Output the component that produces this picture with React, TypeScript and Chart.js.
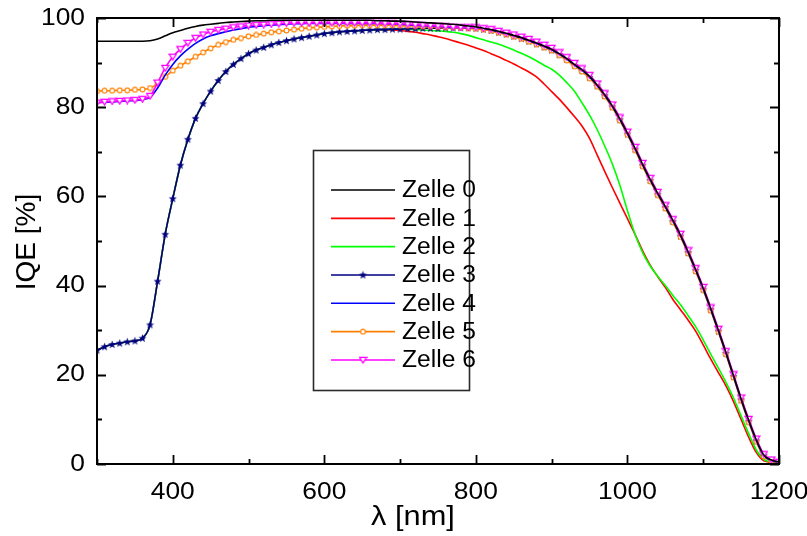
import { useEffect, useRef } from "react";
import { Chart, registerables } from "chart.js";
Chart.register(...registerables);

const wavelengths = [
  300, 310, 320, 330, 340, 350, 360, 370, 380, 390,
  400, 410, 420, 430, 440, 450, 460, 470, 480, 490,
  500, 510, 520, 530, 540, 550, 560, 570, 580, 590,
  600, 610, 620, 630, 640, 650, 660, 670, 680, 690,
  700, 710, 720, 730, 740, 750, 760, 770, 780, 790,
  800, 810, 820, 830, 840, 850, 860, 870, 880, 890,
  900, 910, 920, 930, 940, 950, 960, 970, 980, 990,
  1000, 1010, 1020, 1030, 1040, 1050, 1060, 1070, 1080, 1090,
  1100, 1110, 1120, 1130, 1140, 1150, 1160, 1170, 1180, 1190,
  1200,
];

const zelle0 = [
  94.8, 94.8, 94.8, 94.8, 94.8, 94.8, 94.8, 94.9, 95.3, 96.0,
  96.7, 97.2, 97.7, 98.1, 98.4, 98.6, 98.8, 99.0, 99.1, 99.2,
  99.3, 99.4, 99.4, 99.5, 99.5, 99.5, 99.5, 99.5, 99.5, 99.5,
  99.5, 99.5, 99.5, 99.5, 99.5, 99.5, 99.5, 99.4, 99.4, 99.3,
  99.3, 99.2, 99.1, 99.0, 98.9, 98.8, 98.7, 98.6, 98.4, 98.2,
  98.0, 97.7, 97.4, 97.0, 96.6, 96.1, 95.6, 95.0, 94.4, 93.7,
  93.0, 92.0, 90.9, 89.6, 88.4, 86.9, 85.0, 82.8, 80.3, 77.4,
  74.2, 70.8, 67.2, 63.8, 60.7, 57.7, 54.6, 51.3, 47.6, 43.6,
  39.4, 34.8, 30.0, 25.0, 19.8, 14.6, 9.8, 5.4, 2.0, 0.9,
  0.4,
];

const zelle1 = [
  25.5, 26.3, 26.8, 27.1, 27.4, 27.6, 28.2, 31.2, 41.0, 51.5,
  59.5, 67.0, 72.8, 77.5, 80.8, 83.6, 86.0, 88.0, 89.6, 90.9,
  92.0, 92.8, 93.4, 94.0, 94.5, 94.9, 95.3, 95.6, 95.9, 96.2,
  96.5, 96.7, 96.9, 97.0, 97.1, 97.2, 97.3, 97.3, 97.3, 97.3,
  97.2, 97.0, 96.8, 96.5, 96.2, 95.8, 95.4, 94.9, 94.4, 93.9,
  93.3, 92.7, 92.0, 91.3, 90.5, 89.7, 88.8, 87.9, 86.8, 85.2,
  83.5, 81.8, 79.9, 77.9, 75.8, 73.0, 69.3, 65.6, 62.0, 58.5,
  55.0, 51.5, 47.8, 44.6, 42.0, 39.6, 36.9, 34.6, 32.3, 29.8,
  26.7, 23.5, 20.5, 17.5, 14.0, 10.0, 6.0, 2.6, 0.7, 0.4,
  0.3,
];

const zelle2 = [
  25.5, 26.3, 26.8, 27.1, 27.4, 27.6, 28.2, 31.2, 41.0, 51.5,
  59.5, 67.0, 72.8, 77.5, 80.8, 83.6, 86.0, 88.0, 89.6, 90.9,
  92.0, 92.8, 93.4, 94.0, 94.5, 94.9, 95.3, 95.6, 95.9, 96.2,
  96.5, 96.7, 96.9, 97.0, 97.1, 97.2, 97.3, 97.4, 97.4, 97.5,
  97.5, 97.5, 97.4, 97.3, 97.2, 97.1, 97.0, 96.8, 96.5, 96.1,
  95.6, 95.1, 94.6, 94.1, 93.5, 92.8, 92.1, 91.3, 90.4, 89.4,
  88.5, 87.2, 85.5, 83.6, 81.0, 78.2, 75.0, 71.3, 67.3, 62.5,
  56.8, 51.5, 47.4, 44.4, 42.1, 40.0, 37.8, 35.7, 33.3, 30.8,
  27.8, 24.6, 21.5, 18.3, 14.8, 10.8, 6.8, 3.2, 1.0, 0.5,
  0.3,
];

const zelle3 = [
  25.5, 26.3, 26.8, 27.1, 27.4, 27.6, 28.2, 31.2, 41.0, 51.5,
  59.5, 67.0, 72.8, 77.5, 80.8, 83.6, 86.0, 88.0, 89.6, 90.9,
  92.0, 92.8, 93.4, 94.0, 94.5, 94.9, 95.3, 95.6, 95.9, 96.2,
  96.5, 96.7, 96.9, 97.0, 97.1, 97.2, 97.3, 97.4, 97.4, 97.5,
  97.5, 97.6, 97.6, 97.7, 97.7, 97.7, 97.8, 97.8, 97.8, 97.8,
  97.7, 97.5, 97.2, 96.8, 96.4, 95.9, 95.4, 94.8, 94.2, 93.5,
  92.8, 91.8, 90.7, 89.4, 88.2, 86.7, 84.8, 82.6, 80.1, 77.2,
  74.0, 70.6, 67.0, 63.6, 60.5, 57.5, 54.4, 51.1, 47.4, 43.4,
  39.2, 34.6, 29.8, 24.8, 19.6, 14.4, 9.6, 5.2, 1.9, 0.8,
  0.4,
];

const zelle4 = [
  81.0, 81.1, 81.2, 81.3, 81.4, 81.5, 81.7, 82.2, 84.3, 87.2,
  89.6, 91.5, 93.0, 94.3, 95.3, 96.0, 96.5, 96.9, 97.3, 97.6,
  97.9, 98.1, 98.3, 98.4, 98.5, 98.6, 98.7, 98.7, 98.8, 98.8,
  98.8, 98.8, 98.8, 98.8, 98.8, 98.8, 98.8, 98.8, 98.7, 98.7,
  98.6, 98.5, 98.4, 98.3, 98.2, 98.1, 98.0, 97.9, 97.9, 97.8,
  97.8, 97.6, 97.3, 96.9, 96.5, 96.0, 95.5, 94.9, 94.3, 93.6,
  92.9, 91.9, 90.8, 89.5, 88.3, 86.8, 84.9, 82.7, 80.2, 77.3,
  74.1, 70.7, 67.1, 63.7, 60.6, 57.6, 54.5, 51.2, 47.5, 43.5,
  39.3, 34.7, 29.9, 24.9, 19.7, 14.5, 9.7, 5.3, 1.9, 0.8,
  0.4,
];

const zelle5 = [
  83.6, 83.7, 83.7, 83.8, 83.8, 83.9, 84.0, 84.3, 85.3, 86.8,
  88.2, 89.3, 90.3, 91.3, 92.3, 93.2, 94.0, 94.6, 95.1, 95.5,
  95.9, 96.2, 96.5, 96.8, 97.0, 97.2, 97.4, 97.6, 97.8, 97.9,
  98.0, 98.1, 98.2, 98.3, 98.3, 98.4, 98.4, 98.4, 98.4, 98.4,
  98.3, 98.3, 98.2, 98.1, 98.1, 98.0, 97.9, 97.9, 97.8, 97.7,
  97.6, 97.4, 97.1, 96.7, 96.3, 95.8, 95.3, 94.7, 94.1, 93.4,
  92.7, 91.7, 90.5, 89.2, 88.0, 86.5, 84.6, 82.4, 79.9, 77.0,
  73.8, 70.4, 66.8, 63.4, 60.3, 57.3, 54.2, 50.9, 47.2, 43.2,
  39.0, 34.4, 29.6, 24.6, 19.4, 14.2, 9.4, 5.0, 1.7, 0.7,
  0.4,
];

const zelle6 = [
  81.0, 81.2, 81.3, 81.4, 81.5, 81.6, 81.8, 82.5, 85.5, 88.8,
  91.3, 93.0, 94.4, 95.5, 96.3, 96.9, 97.3, 97.6, 97.9, 98.1,
  98.3, 98.4, 98.5, 98.6, 98.7, 98.8, 98.9, 98.9, 98.9, 98.9,
  98.9, 98.9, 98.9, 98.9, 98.9, 98.9, 98.9, 98.9, 98.8, 98.8,
  98.7, 98.6, 98.5, 98.4, 98.3, 98.2, 98.1, 98.0, 97.9, 97.9,
  97.9, 97.7, 97.5, 97.1, 96.7, 96.3, 95.8, 95.3, 94.7, 94.0,
  93.3, 92.3, 91.2, 89.9, 88.7, 87.2, 85.3, 83.1, 80.6, 77.7,
  74.5, 71.1, 67.5, 64.1, 61.0, 58.0, 54.9, 51.6, 47.9, 43.9,
  39.7, 35.1, 30.3, 25.3, 20.1, 14.9, 10.1, 5.7, 2.2, 1.0,
  0.5,
];

const seriesNames = ["Zelle 0", "Zelle 1", "Zelle 2", "Zelle 3", "Zelle 4", "Zelle 5", "Zelle 6"];
const seriesValues = [zelle0, zelle1, zelle2, zelle3, zelle4, zelle5, zelle6];
const seriesColors = ["#000000", "#ff0000", "#00ff00", "#000080", "#0000ff", "#ff8000", "#ff00ff"];
const drawOrder = [0, 6, 5, 4, 2, 3, 1];

const xTicks = [400, 600, 800, 1000, 1200];
const xMinorTicks = [300, 500, 700, 900, 1100];
const yTicks = [0, 20, 40, 60, 80, 100];
const yMinorTicks = [10, 30, 50, 70, 90];
const xTitle = "λ [nm]";
const yTitle = "IQE [%]";

const FONT = '"Liberation Sans", Arial, Helvetica, sans-serif';
const SX = 1.07;

function makeStar(color: string) {
  const c = document.createElement("canvas");
  c.width = 9;
  c.height = 9;
  const g = c.getContext("2d")!;
  g.fillStyle = color;
  g.beginPath();
  for (let i = 0; i < 10; i++) {
    const r = i % 2 === 0 ? 4.2 : 1.8;
    const a = -Math.PI / 2 + (i * Math.PI) / 5;
    const px = 4.5 + r * Math.cos(a);
    const py = 4.8 + r * Math.sin(a);
    if (i === 0) g.moveTo(px, py);
    else g.lineTo(px, py);
  }
  g.closePath();
  g.fill();
  return c;
}

function makeCircle(color: string) {
  const c = document.createElement("canvas");
  c.width = 7;
  c.height = 7;
  const g = c.getContext("2d")!;
  g.beginPath();
  g.arc(3.5, 3.5, 2.4, 0, Math.PI * 2);
  g.fillStyle = "#ffffff";
  g.fill();
  g.strokeStyle = color;
  g.lineWidth = 1.1;
  g.stroke();
  return c;
}

function makeTriangle(color: string) {
  const c = document.createElement("canvas");
  c.width = 9;
  c.height = 8;
  const g = c.getContext("2d")!;
  g.beginPath();
  g.moveTo(1.0, 1.4);
  g.lineTo(8.0, 1.4);
  g.lineTo(4.5, 7.0);
  g.closePath();
  g.fillStyle = "#ffffff";
  g.fill();
  g.strokeStyle = color;
  g.lineWidth = 1.3;
  g.stroke();
  return c;
}

function stretchedText(
  ctx: CanvasRenderingContext2D,
  text: string,
  x: number,
  y: number,
  align: CanvasTextAlign,
  sx: number
) {
  ctx.save();
  ctx.translate(x, y);
  ctx.scale(sx, 1);
  ctx.textAlign = align;
  ctx.fillText(text, 0, 0);
  ctx.restore();
}

export default function App() {
  const ref = useRef<HTMLCanvasElement | null>(null);

  useEffect(() => {
    const canvas = ref.current;
    if (!canvas) return;
    const markers: (HTMLCanvasElement | null)[] = [
      null,
      null,
      null,
      makeStar(seriesColors[3]),
      null,
      makeCircle(seriesColors[5]),
      makeTriangle(seriesColors[6]),
    ];

    const datasets = seriesValues.map((vals, i) => ({
      label: seriesNames[i],
      data: wavelengths.map((x, j) => ({ x, y: vals[j] })),
      borderColor: seriesColors[i],
      backgroundColor: seriesColors[i],
      borderWidth: 1.6,
      cubicInterpolationMode: "monotone" as const,
      pointRadius: markers[i] ? 3 : 0,
      pointStyle: (markers[i] || "circle") as any,
      order: drawOrder[i],
    }));

    const decorPlugin = {
      id: "decor",
      afterDraw(chart: any) {
        const ctx = chart.ctx as CanvasRenderingContext2D;
        const { left, right, top, bottom } = chart.chartArea;
        const xs = chart.scales.x;
        const ys = chart.scales.y;
        ctx.save();
        ctx.strokeStyle = "#000";
        ctx.lineWidth = 1.8;
        const major = 9;
        const minor = 5;
        ctx.beginPath();
        const tickX = (v: number, len: number) => {
          const px = Math.round(xs.getPixelForValue(v)) + 0.5;
          ctx.moveTo(px, bottom);
          ctx.lineTo(px, bottom - len);
          ctx.moveTo(px, top);
          ctx.lineTo(px, top + len);
        };
        const tickY = (v: number, len: number) => {
          const py = Math.round(ys.getPixelForValue(v)) + 0.5;
          ctx.moveTo(left, py);
          ctx.lineTo(left + len, py);
          ctx.moveTo(right, py);
          ctx.lineTo(right - len, py);
        };
        xTicks.forEach((v) => tickX(v, major));
        xMinorTicks.forEach((v) => tickX(v, minor));
        yTicks.forEach((v) => tickY(v, major));
        yMinorTicks.forEach((v) => tickY(v, minor));
        ctx.stroke();
        ctx.lineWidth = 2;
        ctx.strokeRect(left, top, right - left, bottom - top);

        // tick labels
        ctx.fillStyle = "#000";
        ctx.font = `24px ${FONT}`;
        ctx.textBaseline = "middle";
        xTicks.forEach((v) => {
          stretchedText(ctx, String(v), xs.getPixelForValue(v), bottom + 28, "center", 1.1);
        });
        yTicks.forEach((v) => {
          stretchedText(ctx, String(v), left - 12, ys.getPixelForValue(v), "right", 1.1);
        });

        // axis titles
        ctx.font = `28px ${FONT}`;
        stretchedText(ctx, xTitle, 413, 517, "center", 1.1);
        ctx.save();
        ctx.translate(27, 242);
        ctx.rotate(-Math.PI / 2);
        ctx.textAlign = "center";
        ctx.fillText(yTitle, 0, 0);
        ctx.restore();

        // legend
        const bx = 313.5;
        const by = 150.5;
        const bw = 156;
        const bh = 240;
        ctx.lineWidth = 1.6;
        ctx.strokeStyle = "#2a2a2a";
        ctx.fillStyle = "#fff";
        ctx.fillRect(bx, by, bw, bh);
        ctx.strokeRect(bx, by, bw, bh);
        ctx.font = `23px ${FONT}`;
        seriesNames.forEach((name, i) => {
          const y = 190 + i * 28.33;
          ctx.strokeStyle = seriesColors[i];
          ctx.lineWidth = 1.6;
          ctx.beginPath();
          ctx.moveTo(331, y);
          ctx.lineTo(395, y);
          ctx.stroke();
          const m = markers[i];
          if (m) ctx.drawImage(m, 363 - m.width / 2, y - m.height / 2);
          ctx.fillStyle = "#000";
          stretchedText(ctx, name, 402, y + 1, "left", SX);
        });
        ctx.restore();
      },
    };

    const chart = new Chart(canvas, {
      type: "line",
      data: { datasets },
      options: {
        animation: false,
        responsive: false,
        maintainAspectRatio: false,
        devicePixelRatio: 1,
        layout: { padding: { left: 0, right: 28, top: 18, bottom: 0 } },
        plugins: { legend: { display: false }, tooltip: { enabled: false } },
        elements: { line: { tension: 0 } },
        scales: {
          x: {
            type: "linear",
            min: 300,
            max: 1200,
            grid: { display: false, drawTicks: false },
            border: { display: false },
            ticks: { display: false },
            afterFit: (scale: any) => {
              scale.height = 72;
              scale.paddingLeft = 0;
              scale.paddingRight = 0;
              scale.paddingTop = 0;
              scale.paddingBottom = 0;
            },
          },
          y: {
            type: "linear",
            min: 0,
            max: 100,
            grid: { display: false, drawTicks: false },
            border: { display: false },
            ticks: { display: false },
            afterFit: (scale: any) => {
              scale.width = 97;
              scale.paddingLeft = 0;
              scale.paddingRight = 0;
              scale.paddingTop = 0;
              scale.paddingBottom = 0;
            },
          },
        },
      },
      plugins: [decorPlugin],
    });

    return () => chart.destroy();
  }, []);

  return (
    <div style={{ position: "absolute", left: 0, top: 0, width: 807, height: 536, background: "#fff" }}>
      <canvas ref={ref} width={807} height={536} />
    </div>
  );
}
